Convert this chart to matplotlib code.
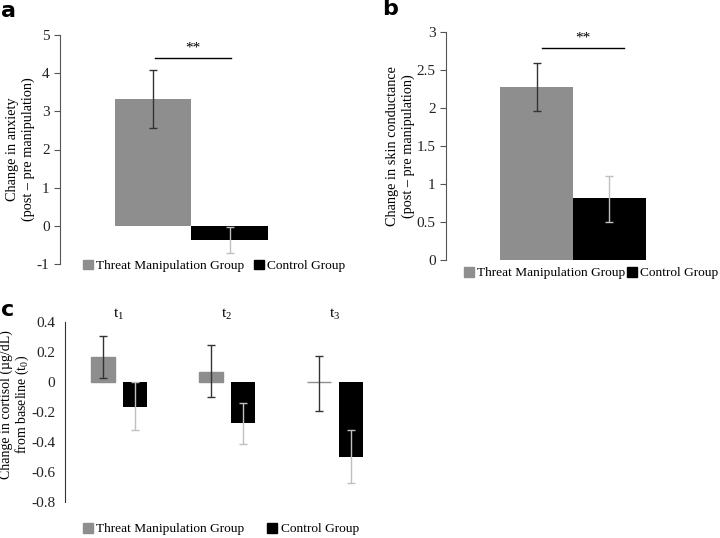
import matplotlib.pyplot as plt
from matplotlib.patches import Patch

plt.rcParams['font.family'] = ['Liberation Serif', 'DejaVu Serif']
plt.rcParams['mathtext.fontset'] = 'custom'
plt.rcParams['mathtext.rm'] = 'Liberation Serif'
plt.rcParams['mathtext.it'] = 'Liberation Serif:italic'
plt.rcParams['mathtext.default'] = 'regular'
plt.rcParams['axes.unicode_minus'] = False

groups = ['Threat Manipulation Group', 'Control Group']
anx_mean = [3.32, -0.36]
anx_lo = [2.56, -0.71]
anx_hi = [4.08, -0.03]
scl_mean = [2.28, 0.81]
scl_lo = [1.96, 0.50]
scl_hi = [2.59, 1.11]
times = ['t$_1$', 't$_2$', 't$_3$']
cort_threat = [0.165, 0.07, 0.0]
cort_threat_lo = [0.03, -0.10, -0.19]
cort_threat_hi = [0.305, 0.25, 0.175]
cort_ctrl = [-0.165, -0.27, -0.50]
cort_ctrl_lo = [-0.32, -0.41, -0.675]
cort_ctrl_hi = [0.0, -0.14, -0.32]

GRAY = '#8e8e8e'
ERR_DARK = '#333333'
ERR_LIGHT = '#c0c0c0'
W, H = 720, 538

fig = plt.figure(figsize=(7.2, 5.38), dpi=100)


def px_axes(left, top, right, bottom):
    return fig.add_axes([left / W, 1 - bottom / H, (right - left) / W, (bottom - top) / H])


def style(ax, ticks=True):
    for s in ['top', 'right', 'bottom']:
        ax.spines[s].set_visible(False)
    ax.spines['left'].set_color('#555555')
    ax.tick_params(axis='x', length=0, labelbottom=False)
    ax.tick_params(axis='y', colors='#555555', labelcolor='#222222', labelsize=11,
                   length=4 if ticks else 0, width=0.8)


def legend(x, y, gap):
    fig.legend([Patch(color=GRAY), Patch(color='black')], groups, ncol=2,
               loc='center left', bbox_to_anchor=(x / W, 1 - y / H), frameon=False,
               handlelength=0.75, handleheight=0.75, handletextpad=0.25,
               columnspacing=gap, fontsize=9.6, borderpad=0, borderaxespad=0)


def letter(x, y, s):
    fig.text(x / W, 1 - y / H, s, fontfamily='DejaVu Sans', fontweight='bold',
             fontsize=16, ha='center', va='center')


# panel a
ax = px_axes(60, 35, 310, 264)
cols = [GRAY, 'black']
errc = [ERR_DARK, ERR_LIGHT]
for i in range(2):
    ax.bar(i, anx_mean[i], width=1.0, color=cols[i])
    ax.errorbar(i, anx_mean[i], yerr=[[anx_mean[i] - anx_lo[i]], [anx_hi[i] - anx_mean[i]]],
                color=errc[i], capsize=3, elinewidth=1, capthick=1)
ax.plot([0.02, 1.02], [4.41, 4.41], color='black', lw=1)
ax.text(0.52, 4.5, '**', ha='center', va='bottom', fontsize=11)
ax.set_xlim(-1.22, 2.05)
ax.set_ylim(-1, 5)
ax.set_yticks(range(-1, 6))
style(ax)
ax.set_ylabel('Change in anxiety\n(post \u2013 pre manipulation)', fontsize=10.3)
ax.yaxis.set_label_coords(-0.10, 0.5)
letter(8, 11, 'a')
legend(83, 266, 0.7)

# panel b
ax = px_axes(446, 32, 700, 260)
for i in range(2):
    ax.bar(i, scl_mean[i], width=1.0, color=cols[i])
    ax.errorbar(i, scl_mean[i], yerr=[[scl_mean[i] - scl_lo[i]], [scl_hi[i] - scl_mean[i]]],
                color=errc[i], capsize=3, elinewidth=1, capthick=1)
ax.plot([0.07, 1.2], [2.79, 2.79], color='black', lw=1)
ax.text(0.64, 2.83, '**', ha='center', va='bottom', fontsize=11)
ax.set_xlim(-1.24, 2.24)
ax.set_ylim(0, 3)
ax.set_yticks([0, 0.5, 1, 1.5, 2, 2.5, 3])
ax.set_yticklabels(['0', '0.5', '1', '1.5', '2', '2.5', '3'])
style(ax)
ax.set_ylabel('Change in skin conductance\n(post \u2013 pre manipulation)', fontsize=10.3)
ax.yaxis.set_label_coords(-0.122, 0.5)
letter(390, 9, 'b')
legend(464, 273, 0.1)

# panel c
ax = px_axes(65, 322, 389, 502)
bw = 0.22
off = 0.145
for i in range(3):
    ax.bar(i - off, cort_threat[i], width=bw, color=GRAY, edgecolor=GRAY, lw=1)
    ax.errorbar(i - off, cort_threat[i],
                yerr=[[cort_threat[i] - cort_threat_lo[i]], [cort_threat_hi[i] - cort_threat[i]]],
                color=ERR_DARK, capsize=3, elinewidth=1, capthick=1)
    ax.bar(i + off, cort_ctrl[i], width=bw, color='black')
    ax.errorbar(i + off, cort_ctrl[i],
                yerr=[[cort_ctrl[i] - cort_ctrl_lo[i]], [cort_ctrl_hi[i] - cort_ctrl[i]]],
                color=ERR_LIGHT, capsize=3, elinewidth=1, capthick=1)
    ax.text(i, 1.0, times[i], transform=ax.get_xaxis_transform(), ha='center', va='bottom',
            fontsize=11)
ax.set_xlim(-0.5, 2.5)
ax.set_ylim(-0.8, 0.4)
ax.set_yticks([-0.8, -0.6, -0.4, -0.2, 0, 0.2, 0.4])
ax.set_yticklabels(['-0.8', '-0.6', '-0.4', '-0.2', '0', '0.2', '0.4'])
style(ax, ticks=False)
ax.spines['left'].set_color('#333333')
ax.tick_params(axis='y', pad=7)
ax.set_ylabel('Change in cortisol (\u00b5g/dL)\nfrom baseline (t$_0$)', fontsize=10, linespacing=1.05)
ax.yaxis.set_label_coords(-0.106, 0.544)
letter(8, 310, 'c')
legend(83, 529, 1.7)

fig.savefig('out.png', dpi=100)
